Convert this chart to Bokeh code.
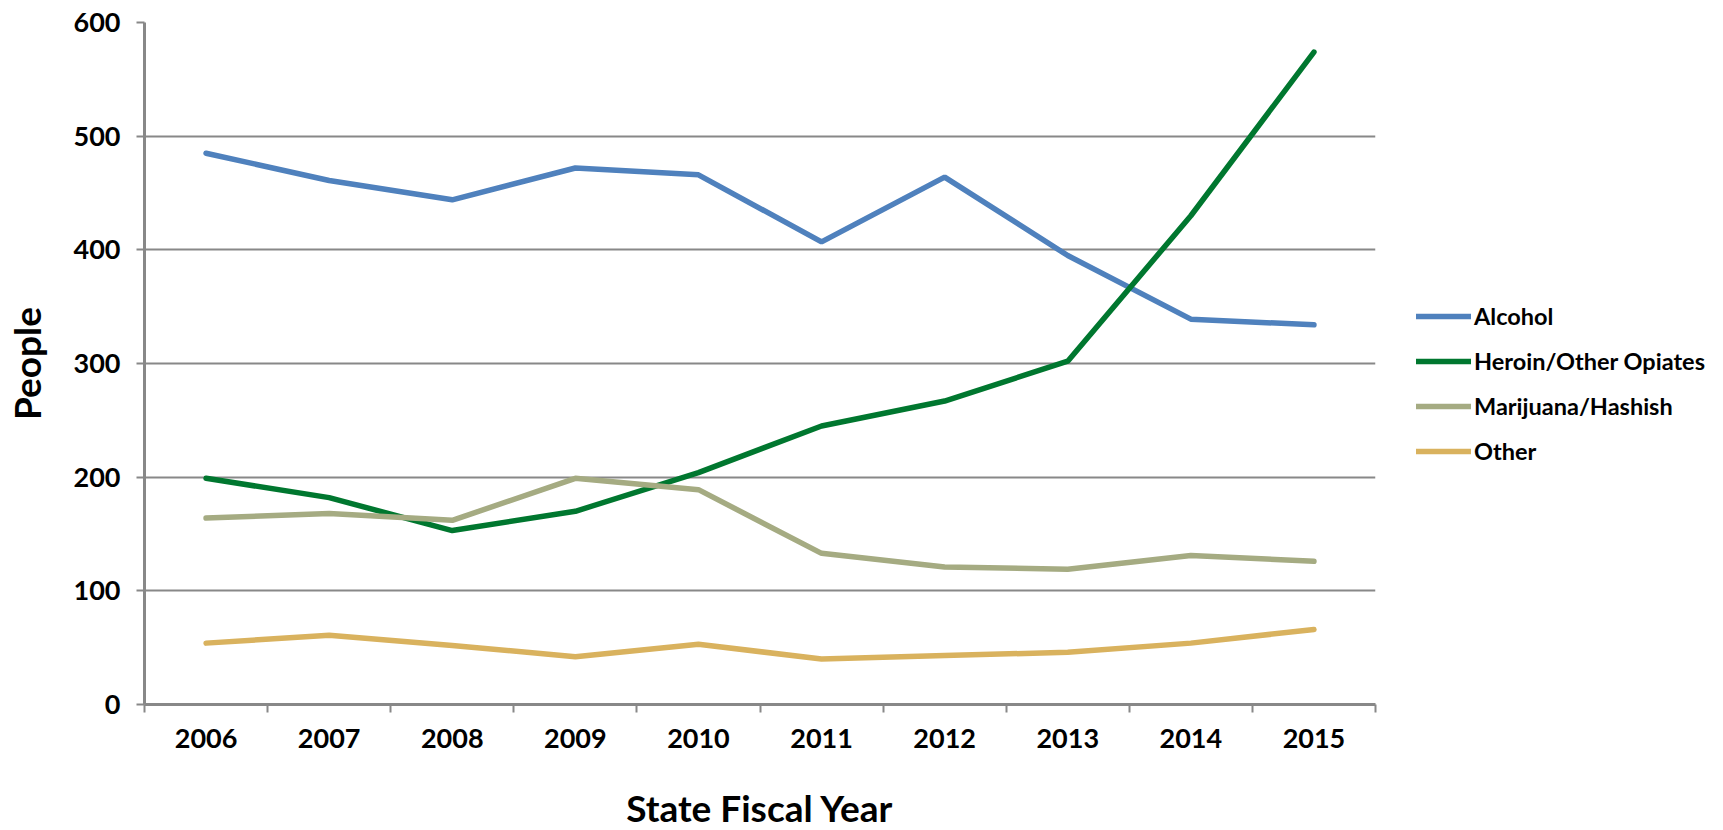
from bokeh.plotting import figure
from bokeh.models import Range1d, FixedTicker, Legend, LegendItem
from bokeh.embed import file_html
from bokeh.resources import INLINE

years = ["2006", "2007", "2008", "2009", "2010", "2011", "2012", "2013", "2014", "2015"]
alcohol = [485, 461, 444, 472, 466, 407, 464, 395, 339, 334]
heroin = [199, 182, 153, 170, 204, 245, 267, 302, 430, 574]
marijuana = [164, 168, 162, 199, 189, 133, 121, 119, 131, 126]
other = [54, 61, 52, 42, 53, 40, 43, 46, 54, 66]

series_names = ["Alcohol", "Heroin/Other Opiates", "Marijuana/Hashish", "Other"]
series_values = [alcohol, heroin, marijuana, other]
series_colors = ["#4F81BD", "#00772F", "#A5AB82", "#D9B25E"]
y_ticks = [0, 100, 200, 300, 400, 500, 600]

FONT = "Lato"
GRAY = "#888888"

n = len(years)
xs = [i + 0.5 for i in range(n)]

p = figure(frame_width=1231, frame_height=682,
           min_border_left=136, min_border_top=22, min_border_bottom=110, min_border_right=340,
           x_range=Range1d(0, n), y_range=Range1d(0, 600),
           output_backend="svg", toolbar_location=None, background_fill_color="white",
           border_fill_color="white")
p.outline_line_color = None

# axes
p.xaxis.ticker = FixedTicker(ticks=xs, minor_ticks=list(range(n + 1)))
p.xaxis.major_label_overrides = {x: y for x, y in zip(xs, years)}
p.xaxis.major_tick_line_color = None
p.xaxis.major_tick_out = 0
p.xaxis.major_tick_in = 0
p.xaxis.minor_tick_line_color = GRAY
p.xaxis.minor_tick_line_width = 2
p.xaxis.minor_tick_out = 8
p.xaxis.minor_tick_in = 0
p.xaxis.major_label_standoff = 16
p.xaxis.axis_label = "State Fiscal Year"
p.xaxis.axis_label_standoff = 34

p.yaxis.ticker = FixedTicker(ticks=y_ticks)
p.yaxis.minor_tick_line_color = None
p.yaxis.major_tick_line_color = GRAY
p.yaxis.major_tick_line_width = 2
p.yaxis.major_tick_out = 8
p.yaxis.major_tick_in = 0
p.yaxis.major_label_standoff = 16
p.yaxis.axis_label = "People"
p.yaxis.axis_label_standoff = 22

for ax in (p.xaxis, p.yaxis):
    ax.axis_line_color = GRAY
    ax.axis_line_width = 3
    ax.major_label_text_font = FONT
    ax.major_label_text_font_style = "bold"
    ax.major_label_text_font_size = "27px"
    ax.major_label_text_color = "black"
    ax.axis_label_text_font = FONT
    ax.axis_label_text_font_style = "bold"
    ax.axis_label_text_font_size = "37px"
    ax.axis_label_text_color = "black"

p.xgrid.grid_line_color = None
p.ygrid.ticker = FixedTicker(ticks=y_ticks)
p.ygrid.grid_line_color = GRAY
p.ygrid.grid_line_width = 2

items = []
for name, vals, col in zip(series_names, series_values, series_colors):
    r = p.line(xs, vals, line_color=col, line_width=5.5, line_cap="round")
    items.append(LegendItem(label=name, renderers=[r]))

legend = Legend(items=items, location=(41, 239), orientation="vertical",
                padding=0, margin=0, spacing=17, glyph_width=55, glyph_height=20,
                label_height=20, label_standoff=3, label_text_font=FONT,
                label_text_font_style="bold", label_text_font_size="23.5px",
                label_text_color="black", border_line_color=None,
                background_fill_alpha=0)
p.add_layout(legend, "right")

open("out.html", "w").write(file_html(p, INLINE))
